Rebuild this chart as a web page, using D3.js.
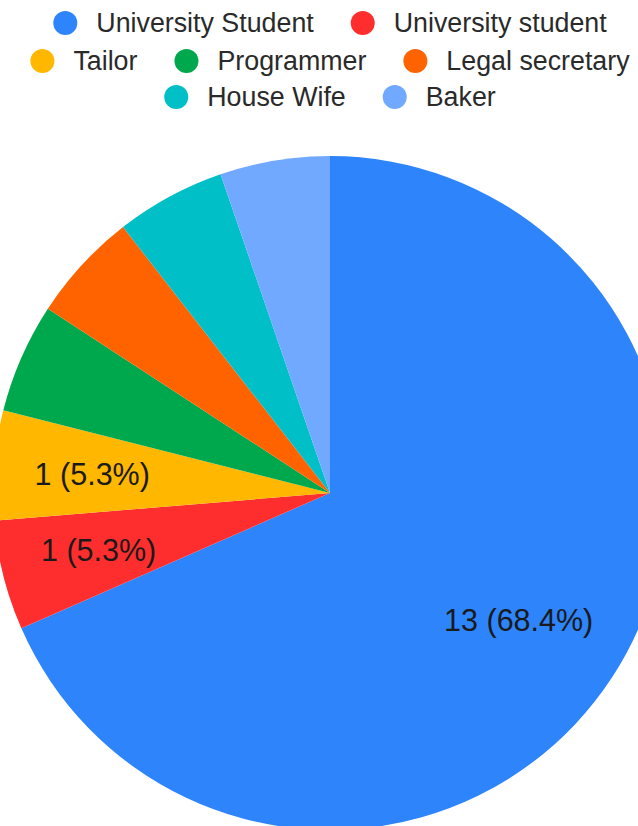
<!DOCTYPE html>
<html>
<head>
<meta charset="utf-8">
<script src="https://cdn.jsdelivr.net/npm/d3@7"></script>
<style>
  body { margin: 0; background: #fff; }
  svg { display: block; font-family: "Liberation Sans", Arial, sans-serif; }
</style>
</head>
<body>
<svg id="chart" width="638" height="826"></svg>
<script>
// occupations, in the order the slices run clockwise from 12 o'clock
const categories = ["University Student", "University student", "Tailor", "Programmer",
                    "Legal secretary", "House Wife", "Baker"];
const counts = [13, 1, 1, 1, 1, 1, 1];
const colors = ["#2d84fb", "#ff2e2e", "#ffb700", "#00a84d", "#ff6300", "#00bfc6", "#70a9ff"];
// only these slices carry a value label in the original
const labeledSlices = ["University Student", "University student", "Tailor"];
// legend rows
const legendRows = [
  ["University Student", "University student"],
  ["Tailor", "Programmer", "Legal secretary"],
  ["House Wife", "Baker"]
];

const svg = d3.select("#chart"),
      width = +svg.attr("width"),
      height = +svg.attr("height");

const cx = 330, cy = 493, radius = 337;
const total = d3.sum(counts);

const color = d3.scaleOrdinal().domain(categories).range(colors);

const data = categories.map((c, i) => ({name: c, value: counts[i]}));

const pie = d3.pie().value(d => d.value).sort(null);
const arc = d3.arc().innerRadius(0).outerRadius(radius);
const labelArc = d3.arc().innerRadius(radius * 0.69).outerRadius(radius * 0.69);

const g = svg.append("g").attr("transform", `translate(${cx},${cy})`);

const arcs = pie(data);

g.selectAll("path")
  .data(arcs)
  .join("path")
  .attr("d", arc)
  .attr("fill", d => color(d.data.name));

g.selectAll("text")
  .data(arcs.filter(d => labeledSlices.includes(d.data.name)))
  .join("text")
  .attr("transform", d => `translate(${labelArc.centroid(d)})`)
  .attr("text-anchor", "middle")
  .attr("dx", -6)
  .attr("dy", "0.36em")
  .attr("font-size", 30.5)
  .attr("fill", "#1a1a1a")
  .text(d => `${d.data.value} (${(d.data.value / total * 100).toFixed(1)}%)`);

// Legend - centered rows
const legend = svg.append("g");
const rowY = [23, 61, 97];
const dotR = 12, textGap = 19, itemGap = 37;

legendRows.forEach((row, ri) => {
  const rowG = legend.append("g");
  let x = 0;
  row.forEach(name => {
    const item = rowG.append("g").attr("transform", `translate(${x},0)`);
    item.append("circle")
      .attr("cx", dotR)
      .attr("cy", 0)
      .attr("r", dotR)
      .attr("fill", color(name));
    const t = item.append("text")
      .attr("x", dotR * 2 + textGap)
      .attr("y", 0)
      .attr("dy", "0.35em")
      .attr("font-size", 26.8)
      .attr("fill", "#2a2a2a")
      .text(name);
    x += dotR * 2 + textGap + t.node().getComputedTextLength() + itemGap;
  });
  const rowWidth = x - itemGap;
  rowG.attr("transform", `translate(${cx - rowWidth / 2},${rowY[ri]})`);
});
</script>
</body>
</html>
